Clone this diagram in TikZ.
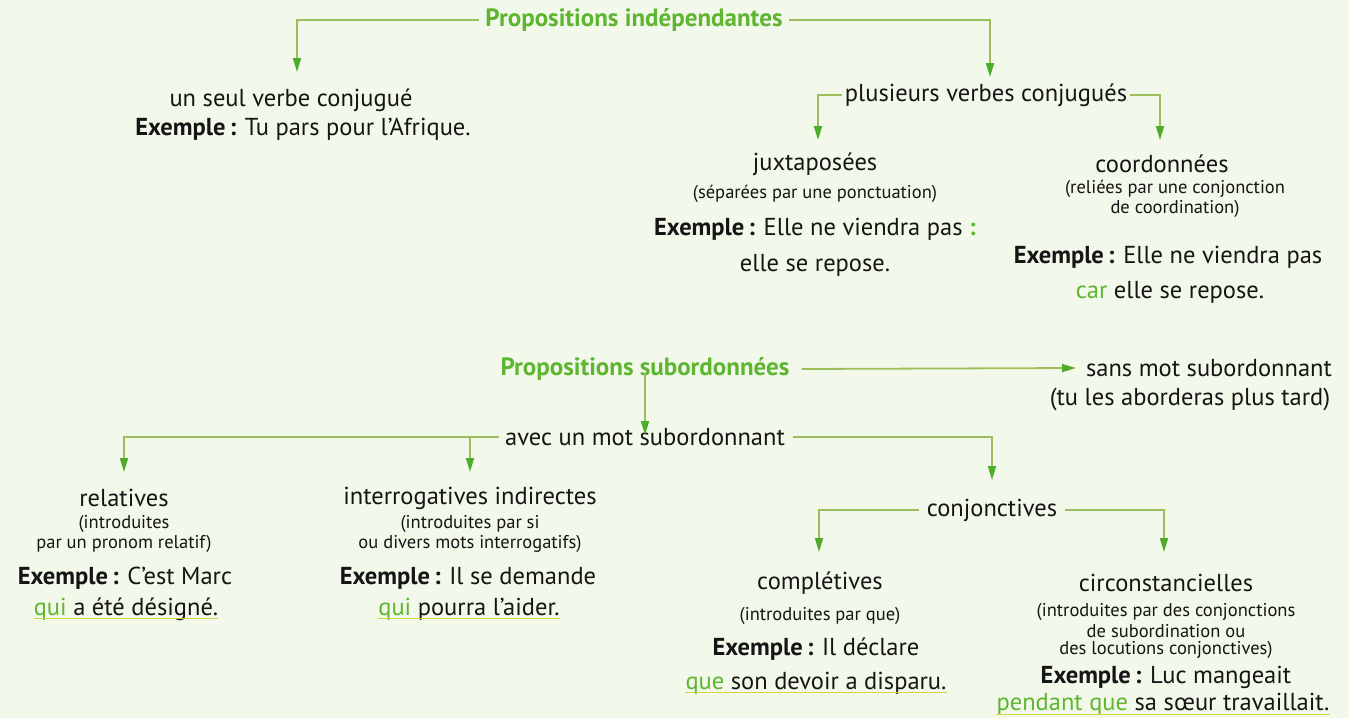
\documentclass[tikz,border=0pt]{standalone}
\usepackage{fontspec}
\setmainfont{PT Sans}
\usetikzlibrary{arrows.meta}
\definecolor{bg}{HTML}{F3F9EA}
\definecolor{tgreen}{HTML}{5DB530}
\definecolor{lgreen}{HTML}{9DBE5C}
\definecolor{agreen}{HTML}{4CAD2A}
\definecolor{uline}{HTML}{D2D445}
\definecolor{txt}{HTML}{151515}
\begin{document}
\begin{tikzpicture}[x=1pt,y=-1pt,
 every node/.style={inner sep=0pt, text=txt, anchor=center},
 main/.style={font=\fontsize{24.5}{26}\selectfont},
 small/.style={font=\fontsize{18.5}{20}\selectfont},
 title/.style={font=\fontsize{25}{27}\selectfont\bfseries, text=tgreen},
 link/.style={draw=lgreen, line width=1.8pt},
 conn/.style={link, -{Triangle[length=14pt,width=8pt,color=agreen]}},
 ul/.style={draw=uline, line width=1.6pt},
]
\fill[bg] (0,0) rectangle (1349,718);
\useasboundingbox (0,0) rectangle (1349,718);

% ---------- Propositions indépendantes
\node[title] (t1) at (634,20) {Propositions indépendantes};
\node[main] (usv) at (291,100) {un seul verbe conjugué};
\node[main] (ex1) at (303,129) {\textbf{Exemple\,:} Tu pars pour l’Afrique.};
\coordinate (a1) at (297,72);
\coordinate (a2) at (990,77);
\draw[conn] ([xshift=-6pt]t1.west) -| (a1);
\draw[conn] ([xshift=6pt]t1.east) -| (a2);

\node[main] (pvc) at (986,95) {plusieurs verbes conjugués};
\coordinate (a3) at (818,140);
\coordinate (a4) at (1160,140);
\draw[conn] ([xshift=-3pt]pvc.west) -| (a3);
\draw[conn] ([xshift=3pt]pvc.east) -| (a4);

\node[main] (jux) at (815,164) {juxtaposées};
\node[small] (jux1) at (815,194) {(séparées par une ponctuation)};
\node[main] (jux2) at (815,229) {\textbf{Exemple\,:} Elle ne viendra pas \textcolor{tgreen}{\textbf{:}}};
\node[main] (jux3) at (815,265) {elle se repose.};

\node[main] (coo) at (1162,164) {coordonnées};
\node[small] (coo1) at (1175,189) {(reliées par une conjonction};
\node[small] (coo2) at (1175,209) {de coordination)};
\node[main] (coo3) at (1168,257) {\textbf{Exemple\,:} Elle ne viendra pas};
\node[main] (coo4) at (1170,292) {\textcolor{tgreen}{car} elle se repose.};

% ---------- Propositions subordonnées
\node[title] (t2) at (645,369) {Propositions subordonnées};
\node[main] (sans) at (1209,368) {sans mot subordonnant};
\node[main] (tu) at (1190,399) {(tu les aborderas plus tard)};
\draw[conn] ([xshift=12pt]t2.east) -- ([xshift=-10pt]sans.west);

\node[main] (avec) at (645,437) {avec un mot subordonnant};
\draw[conn] ([yshift=8pt]t2.south) -- ([yshift=-7pt]avec.north);

\coordinate (b1) at (124,472);
\coordinate (b2) at (470,472);
\coordinate (b3) at (992,480);
\draw[conn] ([xshift=-6pt]avec.west) -| (b1);
\draw[conn] ([xshift=-6pt]avec.west) -| (b2);
\draw[conn] ([xshift=8pt]avec.east) -| (b3);

\node[main] (rel) at (124,498) {relatives};
\node[small] (rel1) at (124,524) {(introduites};
\node[small] (rel2) at (124,544) {par un pronom relatif)};
\node[main] (rel3) at (125,578) {\textbf{Exemple\,:} C’est Marc};
\node[main] (rel4) at (126,609) {\textcolor{tgreen}{qui} a été désigné.};
\draw[ul] ([yshift=2pt]rel4.south west) -- ([yshift=2pt]rel4.south east);

\node[main] (int) at (470,498) {interrogatives indirectes};
\node[small] (int1) at (470,524) {(introduites par si};
\node[small] (int2) at (470,544) {ou divers mots interrogatifs)};
\node[main] (int3) at (468,578) {\textbf{Exemple\,:} Il se demande};
\node[main] (int4) at (469,609) {\textcolor{tgreen}{qui} pourra l’aider.};
\draw[ul] ([yshift=2pt]int4.south west) -- ([yshift=2pt]int4.south east);

\node[main] (conj) at (992,510) {conjonctives};
\coordinate (c1) at (819,552);
\coordinate (c2) at (1164,552);
\draw[conn] ([xshift=-8pt]conj.west) -| (c1);
\draw[conn] ([xshift=8pt]conj.east) -| (c2);

\node[main] (comp) at (820,583) {complétives};
\node[small] (comp1) at (820,616) {(introduites par que)};
\node[main] (comp2) at (816,649) {\textbf{Exemple\,:} Il déclare};
\node[main] (comp3) at (816,683) {\textcolor{tgreen}{que} son devoir a disparu.};
\draw[ul] ([yshift=2pt]comp3.south west) -- ([yshift=2pt]comp3.south east);

\node[main] (circ) at (1166,583) {circonstancielles};
\node[small] (circ1) at (1166,612) {(introduites par des conjonctions};
\node[small] (circ2) at (1166,631) {de subordination ou};
\node[small] (circ3) at (1166,650) {des locutions conjonctives)};
\node[main] (circ4) at (1166,677) {\textbf{Exemple\,:} Luc mangeait};
\node[main] (circ5) at (1163,704) {\textcolor{tgreen}{pendant que} sa sœur travaillait.};
\draw[ul] ([yshift=1pt]circ5.south west) -- ([yshift=1pt]circ5.south east);
\end{tikzpicture}
\end{document}
